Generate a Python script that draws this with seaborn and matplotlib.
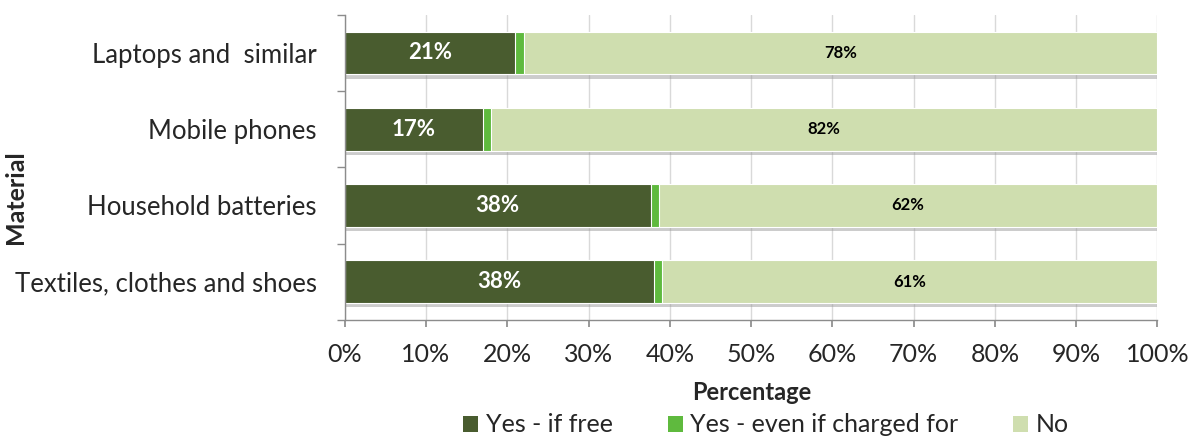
import numpy as np
import pandas as pd
import matplotlib
matplotlib.use("Agg")
import matplotlib.pyplot as plt
import matplotlib.patheffects as pe
from matplotlib.patches import Patch
import seaborn as sns

categories = ["Laptops and  similar", "Mobile phones", "Household batteries",
              "Textiles, clothes and shoes"]
yes_free = [21, 17, 38, 38]
yes_charged = [1, 1, 1, 1]
no = [78, 82, 62, 61]
series_names = ["Yes - if free", "Yes - even if charged for", "No"]
colors = ["#495c2f", "#5fba3e", "#cfdeaf"]
x_ticks = list(range(0, 101, 10))

sns.set_theme(style="white")
plt.rcParams["font.family"] = ["Lato", "DejaVu Sans"]

df = pd.DataFrame({"Material": categories, "free": yes_free,
                   "charged": yes_charged, "no": no})
total = df[["free", "charged", "no"]].sum(axis=1)
# 100% stacked: normalise each row to its total
df["p_free"] = df["free"] / total * 100
df["p_charged"] = df["charged"] / total * 100
df["p_no"] = df["no"] / total * 100
df["cum1"] = df["p_free"]
df["cum2"] = df["p_free"] + df["p_charged"]
df["cum3"] = df["cum2"] + df["p_no"]

fig = plt.figure(figsize=(11.97, 4.37), dpi=100)
ax = fig.add_axes([0.288, 0.268, 0.679, 0.698])

shadow = [pe.SimplePatchShadow(offset=(0, -3), shadow_rgbFace="#9a9a9a", alpha=0.5),
          pe.Normal()]
bw = 0.56
for col, c in zip(["cum3", "cum2", "cum1"], colors[::-1]):
    sns.barplot(data=df, x=col, y="Material", orient="h", color=c, width=bw,
                edgecolor="white", linewidth=0.8, ax=ax, saturation=1)
for p in ax.patches[:len(categories)]:
    p.set_path_effects(shadow)

for i, row in df.iterrows():
    ax.text(row["p_free"] / 2, i, f"{row['free']}%", ha="center", va="center",
            color="white", fontsize=16, fontweight="bold")
    ax.text(row["cum2"] + row["p_no"] / 2, i, f"{row['no']}%", ha="center",
            va="center", color="black", fontsize=12, fontweight="bold")

ax.set_xlim(0, 100)
ax.set_ylim(len(categories) - 0.5, -0.5)
ax.set_xticks(x_ticks)
ax.set_xticklabels([f"{t}%" for t in x_ticks], fontsize=18)
ax.xaxis.grid(True, color="#d9d9d9", linewidth=1)
ax.set_axisbelow(True)
ax.tick_params(axis="x", bottom=True, length=5, color="#8c8c8c", pad=12)
ax.tick_params(axis="y", which="major", length=0, pad=20, labelsize=18.5)
ax.set_yticks(np.arange(-0.5, len(categories), 1), minor=True)
ax.tick_params(axis="y", which="minor", left=True, length=6, color="#8c8c8c")
for s in ["top", "right"]:
    ax.spines[s].set_visible(False)
for s in ["left", "bottom"]:
    ax.spines[s].set_color("#8c8c8c")
    ax.spines[s].set_linewidth(1)

ax.set_xlabel("")
ax.set_ylabel("")
fig.text(0.628, 1 - 392 / 437, "Percentage", ha="center", va="center",
         fontsize=17, fontweight="bold")
fig.text(0.013, 1 - 197 / 437, "Material", rotation=90, ha="center",
         va="center", fontsize=18, fontweight="bold")

handles = [Patch(facecolor=c, edgecolor="none") for c in colors]
fig.legend(handles, series_names, loc="center", ncol=3, frameon=False,
           fontsize=18, bbox_to_anchor=(0.64, 12 / 437), handlelength=0.6,
           handleheight=0.6, handletextpad=0.3, columnspacing=2.2,
           borderpad=0, borderaxespad=0)

fig.savefig("out.png", dpi=100)
